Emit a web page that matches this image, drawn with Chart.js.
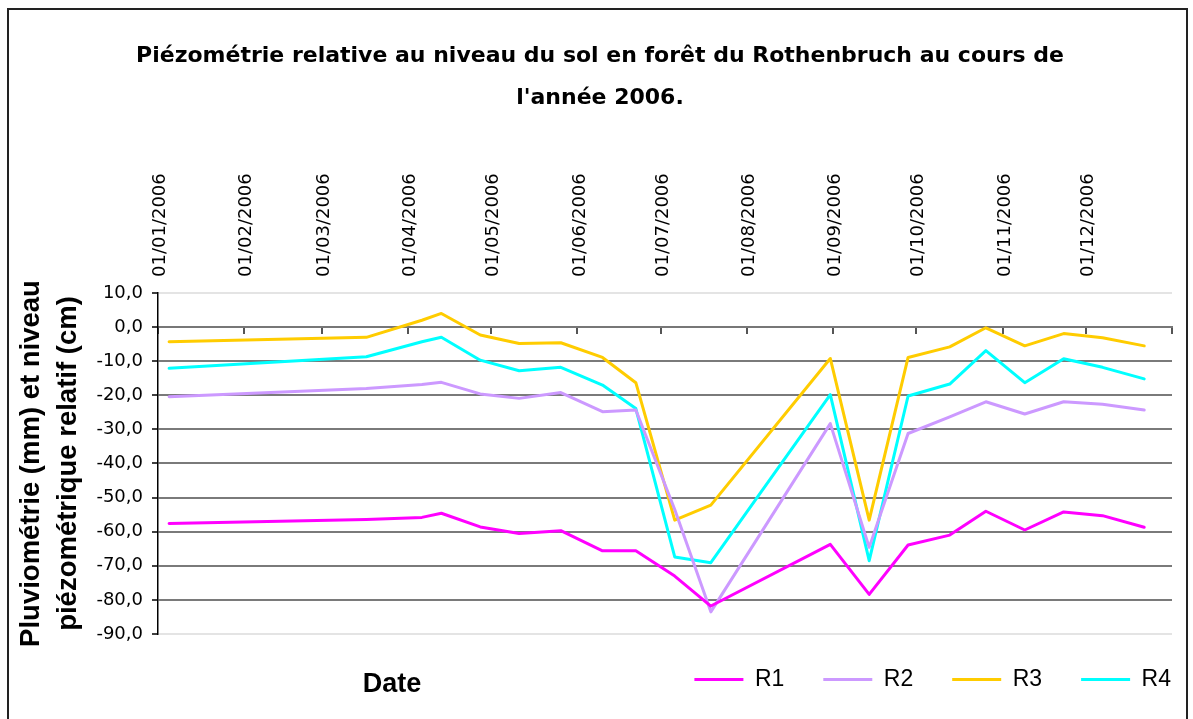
<!DOCTYPE html>
<html><head><meta charset="utf-8">
<script src="https://cdn.jsdelivr.net/npm/chart.js@4/dist/chart.umd.min.js"></script>
<style>
html,body{margin:0;padding:0;background:#fff;}
#wrap{position:relative;width:1193px;height:719px;overflow:hidden;background:#fff;}
#frame{position:absolute;left:7px;top:8px;width:1181px;height:730px;border:2px solid #222;box-sizing:border-box;pointer-events:none;}
canvas{position:absolute;left:0;top:0;}
</style></head><body>
<div id="wrap"><canvas id="c" width="1193" height="719"></canvas><div id="frame"></div></div>
<script>
// ---- data ----
const dates = ['05/01/2006','17/03/2006','06/04/2006','13/04/2006','27/04/2006','11/05/2006','26/05/2006',
  '10/06/2006','22/06/2006','06/07/2006','19/07/2006','31/08/2006','14/09/2006','28/09/2006','13/10/2006',
  '26/10/2006','09/11/2006','23/11/2006','07/12/2006','22/12/2006'];
const R1 = [-57.6,-56.4,-55.8,-54.6,-58.6,-60.5,-59.7,-65.6,-65.6,-73.0,-81.8,-63.7,-78.4,-63.9,-61.0,-54.0,-59.5,-54.2,-55.3,-58.7];
const R2 = [-20.4,-18.0,-16.8,-16.2,-19.6,-20.9,-19.2,-24.8,-24.3,-53.5,-83.5,-28.3,-64.6,-31.2,-26.3,-21.9,-25.5,-21.9,-22.6,-24.3];
const R3 = [-4.3,-3.0,2.0,4.0,-2.3,-4.8,-4.6,-8.9,-16.3,-56.6,-52.2,-9.2,-56.6,-8.9,-5.8,-0.2,-5.5,-1.9,-3.1,-5.5];
const R4 = [-12.1,-8.7,-4.3,-3.0,-9.7,-12.8,-11.8,-17.0,-23.9,-67.4,-69.1,-19.8,-68.5,-20.2,-16.7,-6.9,-16.3,-9.3,-11.8,-15.2];
const seriesNames = ['R1','R2','R3','R4'];
const seriesColors = ['#FF00FF','#CC99FF','#FFCC00','#00FFFF'];
const monthTickLabels = ['01/01/2006','01/02/2006','01/03/2006','01/04/2006','01/05/2006','01/06/2006',
  '01/07/2006','01/08/2006','01/09/2006','01/10/2006','01/11/2006','01/12/2006'];
const axisStart = '01/01/2006';
const axisEnd = '01/01/2007';
const yMin = -90, yMax = 10, yStep = 10;
const titleLines = ["Piézométrie relative au niveau du sol en forêt du Rothenbruch au cours de", "l'année 2006."];
const yTitleLines = ['Pluviométrie (mm) et niveau', 'piézométrique relatif (cm)'];
const xTitle = 'Date';

// ---- helpers ----
function dayNum(s){ const [d,m,y]=s.split('/').map(Number); return Math.round((Date.UTC(y,m-1,d)-Date.UTC(2006,0,1))/86400000); }
const xMin = dayNum(axisStart), xMax = dayNum(axisEnd);
const tickMap = {};
monthTickLabels.forEach(l => tickMap[dayNum(l)] = l);
const tickValues = monthTickLabels.map(dayNum).concat([xMax]);
const allSeries = [R1,R2,R3,R4];

const datasets = allSeries.map((vals,i) => ({
  label: seriesNames[i],
  data: vals.map((v,j) => ({x: dayNum(dates[j]), y: v})),
  borderColor: seriesColors[i],
  backgroundColor: seriesColors[i],
  borderWidth: 3,
  borderCapStyle: 'round',
  borderJoinStyle: 'round',
  pointRadius: 0,
  tension: 0,
  fill: false
}));

const dateLabelPlugin = {
  id: 'dateLabel',
  afterLayout(chart){
    const l = chart.legend;
    if (l) { l.left += 38; l.right += 38; l.top -= 5; l.bottom -= 5; }
    const t = chart.titleBlock;
    if (t) { t.left += 14; t.right += 14; }
  },
  afterDraw(chart){
    const ctx = chart.ctx;
    ctx.save();
    ctx.font = 'bold 27px "Liberation Sans", Arial, sans-serif';
    ctx.fillStyle = '#000';
    ctx.textAlign = 'center';
    ctx.textBaseline = 'middle';
    ctx.fillText(xTitle, 392, 685);
    ctx.restore();
  }
};

new Chart(document.getElementById('c'), {
  type: 'line',
  data: { datasets },
  plugins: [dateLabelPlugin],
  options: {
    responsive: false,
    animation: false,
    devicePixelRatio: 1,
    layout: { padding: { left: 0, right: 21, top: 0, bottom: 13 } },
    plugins: {
      tooltip: { enabled: false },
      title: {
        display: true,
        text: titleLines,
        color: '#000',
        font: { family: '"DejaVu Sans", Verdana, sans-serif', weight: 'bold', size: 22, lineHeight: 1.909 },
        padding: { top: 35, bottom: 0 }
      },
      legend: {
        position: 'bottom',
        align: 'end',
        labels: {
          usePointStyle: true,
          pointStyle: 'line',
          pointStyleWidth: 49,
          boxHeight: 20,
          padding: 39,
          color: '#000',
          font: { family: '"Liberation Sans", Arial, sans-serif', size: 23 }
        }
      }
    },
    scales: {
      x: {
        type: 'linear',
        position: 'top',
        min: xMin, max: xMax,
        afterBuildTicks: (s) => { s.ticks = tickValues.map(v => ({value: v})); },
        afterFit: (s) => { s.height = 174; },
        grid: { display: false, drawTicks: false },
        border: { display: false },
        ticks: {
          autoSkip: false,
          minRotation: 90, maxRotation: 90,
          padding: 16,
          labelOffset: 24,
          color: '#000',
          font: { family: '"DejaVu Sans", sans-serif', size: 18 },
          callback: (v) => tickMap[v] || ''
        }
      },
      x2: {
        type: 'linear',
        axis: 'x',
        position: { y: 0 },
        min: xMin, max: xMax,
        afterBuildTicks: (s) => { s.ticks = tickValues.map(v => ({value: v})); },
        grid: { drawOnChartArea: false, drawTicks: true, tickLength: 6, color: '#555', tickColor: '#555', lineWidth: 2 },
        border: { display: true, color: '#777', width: 2 },
        ticks: { display: false }
      },
      y: {
        type: 'linear',
        min: yMin, max: yMax,
        afterFit: (s) => { s.width = 158; },
        ticks: {
          stepSize: yStep,
          padding: 9,
          color: '#000',
          font: { family: '"DejaVu Sans", sans-serif', size: 18 },
          callback: (v) => v.toFixed(1).replace('.', ',')
        },
        grid: {
          color: (c) => (c.index === 0 || c.index === 10) ? '#e4e4e4' : '#7a7a7a',
          lineWidth: 2,
          tickLength: 6,
          tickColor: '#000',
          tickWidth: 1.5
        },
        border: { display: true, color: '#000', width: 1.5 },
        title: {
          display: true,
          text: yTitleLines,
          color: '#000',
          font: { family: '"Liberation Sans", Arial, sans-serif', weight: 'bold', size: 27.5, lineHeight: 1.35 },
          padding: { top: 13, bottom: 0 }
        }
      }
    }
  }
});
</script>
</body></html>
